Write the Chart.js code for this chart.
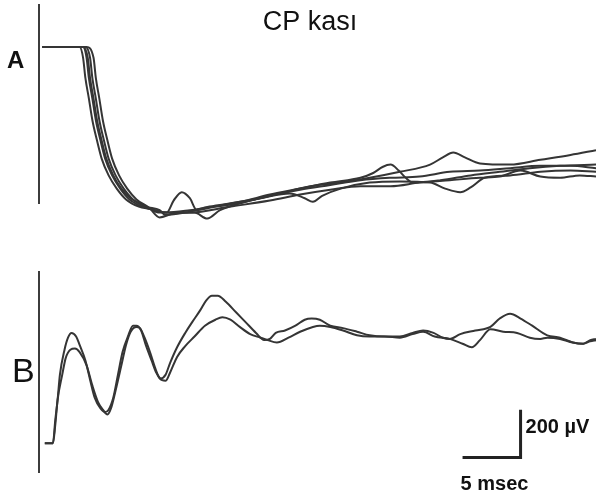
<!DOCTYPE html>
<html>
<head>
<meta charset="utf-8">
<script src="https://cdn.jsdelivr.net/npm/chart.js@4.4.1/dist/chart.umd.min.js"></script>
<style>
  html, body { margin: 0; padding: 0; background: #fff; }
  #wrap { position: relative; width: 596px; height: 501px; }
  canvas { position: absolute; left: 0; }
  #chartA { top: 0; }
  #chartB { top: 250px; }
</style>
</head>
<body>
<div id="wrap">
  <canvas id="chartA" width="596" height="250"></canvas>
  <canvas id="chartB" width="596" height="251"></canvas>
</div>
<script>
// time in msec, amplitude in µV  ->  [t, v]
const title = "CP kası";

// panel A: five superimposed traces
const traceA1 = [[0.3,0],[3.8,0],[4.1,-45],[4.3,-130],[4.6,-215],[4.9,-305],[5.3,-390],[5.7,-465],[6.3,-535],[7.0,-590],[7.8,-635],[8.9,-665],[10.0,-680],[11.0,-690],[11.6,-640],[12.3,-605],[13.0,-630],[13.6,-680],[14.7,-670],[17.3,-650],[19.9,-620],[22.5,-595],[25.1,-575],[27.7,-555],[30.3,-545],[32.8,-540],[35.4,-520],[38.0,-515],[40.6,-505],[43.2,-495],[45.8,-495],[48.0,-505]];
const traceA2 = [[0.3,0],[4.0,0],[4.4,-45],[4.6,-130],[4.9,-215],[5.2,-305],[5.6,-390],[6.0,-465],[6.6,-535],[7.3,-590],[8.1,-635],[9.2,-665],[10.4,-680],[10.9,-700],[12.6,-690],[14.7,-665],[17.3,-645],[19.9,-615],[22.5,-590],[25.1,-565],[27.7,-545],[28.8,-525],[29.6,-500],[30.3,-490],[31.0,-515],[31.6,-545],[32.2,-565],[34.6,-555],[37.2,-535],[39.7,-520],[42.3,-505],[44.9,-495],[48.0,-490]];
const traceA3 = [[0.3,0],[4.1,0],[4.7,-45],[4.9,-130],[5.2,-215],[5.5,-305],[5.9,-390],[6.3,-465],[6.9,-535],[7.6,-590],[8.4,-635],[9.5,-670],[10.4,-710],[11.5,-695],[13.4,-690],[14.5,-715],[15.6,-680],[18.2,-640],[20.8,-610],[23.4,-580],[26.0,-565],[28.5,-545],[31.1,-520],[33.7,-490],[34.8,-460],[35.7,-440],[36.7,-460],[38.0,-485],[40.6,-490],[43.2,-470],[45.8,-450],[48.0,-430]];
const traceA4 = [[0.3,0],[3.5,0],[3.8,-45],[4.0,-130],[4.3,-215],[4.6,-305],[5.0,-390],[5.4,-465],[6.0,-535],[6.7,-590],[7.5,-635],[8.6,-665],[9.6,-675],[10.9,-690],[13.0,-680],[15.6,-660],[19.1,-630],[21.6,-610],[22.9,-630],[23.6,-645],[24.4,-620],[26.0,-590],[28.5,-565],[31.1,-560],[33.7,-565],[35.0,-590],[36.3,-605],[37.2,-585],[38.4,-545],[40.6,-535],[43.2,-520],[45.8,-515],[48.0,-520]];
const traceA5 = [[0.3,0],[3.8,0],[4.2,-45],[4.4,-130],[4.7,-215],[5.0,-305],[5.4,-390],[5.8,-465],[6.4,-535],[7.1,-590],[7.9,-630],[9.0,-660],[9.4,-670],[10.4,-690],[13.0,-690],[16.5,-665],[19.9,-640],[22.5,-615],[25.1,-595],[27.7,-580],[30.3,-580],[32.8,-565],[35.4,-555],[38.0,-545],[39.7,-540],[41.5,-515],[43.2,-540],[44.9,-545],[46.6,-535],[48.0,-540]];

// panel B: two superimposed traces
const traceB1 = [[0.5,0],[1.2,0],[1.4,95],[1.6,180],[1.8,285],[2.2,390],[2.5,440],[2.8,460],[3.2,445],[3.5,410],[4.0,345],[4.4,265],[4.8,190],[5.3,145],[5.7,130],[6.0,140],[6.4,190],[6.8,285],[7.2,380],[7.7,450],[8.1,490],[8.4,490],[8.8,470],[9.2,410],[9.7,345],[10.1,295],[10.5,270],[10.9,285],[11.3,335],[11.9,400],[12.6,460],[13.2,505],[13.9,555],[14.4,595],[14.9,615],[15.4,615],[16.1,590],[17.0,545],[17.8,505],[18.7,460],[19.4,430],[19.9,435],[20.4,460],[21.2,470],[22.1,490],[22.9,515],[23.5,520],[24.2,515],[25.1,490],[26.2,480],[27.4,465],[28.5,450],[29.8,445],[31.1,445],[32.2,460],[33.1,470],[34.0,460],[34.8,440],[35.4,435],[36.3,455],[37.6,470],[38.9,485],[39.7,520],[40.6,540],[41.5,520],[42.5,490],[43.8,450],[44.9,440],[46.0,420],[46.9,415],[47.5,430],[48.0,435]];
const traceB2 = [[0.5,0],[1.2,0],[1.4,75],[1.6,180],[2.0,285],[2.3,355],[2.7,390],[3.1,395],[3.5,380],[4.1,325],[4.6,240],[5.1,170],[5.5,140],[5.9,120],[6.2,145],[6.6,220],[7.1,325],[7.5,410],[7.9,465],[8.4,485],[8.7,480],[9.1,440],[9.6,375],[10.0,315],[10.4,270],[10.9,260],[11.3,295],[11.9,360],[12.6,405],[13.4,445],[14.3,490],[15.2,515],[15.8,525],[16.5,515],[17.3,485],[18.2,455],[19.1,440],[19.7,430],[20.5,420],[21.5,440],[22.5,465],[23.6,485],[24.2,490],[25.1,485],[26.2,470],[27.4,450],[28.5,445],[29.8,445],[31.1,440],[32.2,455],[33.1,465],[34.1,445],[35.4,435],[36.5,415],[37.3,400],[38.0,430],[38.9,475],[40.0,465],[41.2,460],[42.3,440],[43.2,435],[43.8,440],[44.9,435],[46.0,420],[46.9,415],[47.5,425],[48.0,430]];

// calibration bar
const barMs = 5;
const barUv = 200;
const barCorner = [41.5, -60];

const traceColor = "#353535";

function traceSet(data) {
  return {
    data: data,
    borderColor: traceColor,
    borderWidth: 2,
    pointRadius: 0,
    fill: false,
    cubicInterpolationMode: "monotone",
    clip: false
  };
}

function yAxis(min, max) {
  return {
    min: min,
    max: max,
    ticks: { display: false },
    grid: { display: false, drawTicks: false },
    border: { display: true, color: "#3c3c3c", width: 2 },
    afterFit: s => { s.width = 0; }
  };
}

const xAxis = { type: "linear", min: 0, max: 48, display: false };

const labelsA = {
  id: "labelsA",
  afterDraw(chart) {
    const ctx = chart.ctx;
    ctx.save();
    ctx.fillStyle = "#111";
    ctx.textBaseline = "alphabetic";
    ctx.font = "27px 'Liberation Sans Narrow', 'Liberation Sans', sans-serif";
    ctx.textAlign = "center";
    ctx.fillText(title, 310, 30);
    ctx.textAlign = "left";
    ctx.font = "bold 24px 'Liberation Sans', sans-serif";
    ctx.fillText("A", 7, 68);
    ctx.restore();
  }
};

const labelsB = {
  id: "labelsB",
  afterDraw(chart) {
    const ctx = chart.ctx;
    const xs = chart.scales.x, ys = chart.scales.y;
    const cx = xs.getPixelForValue(barCorner[0]);
    const cy = ys.getPixelForValue(barCorner[1]);
    const topY = ys.getPixelForValue(barCorner[1] + barUv);
    const leftX = xs.getPixelForValue(barCorner[0] - barMs);
    ctx.save();
    ctx.fillStyle = "#111";
    ctx.textAlign = "left";
    ctx.textBaseline = "alphabetic";
    ctx.font = "34px 'Liberation Sans Narrow', 'Liberation Sans', sans-serif";
    ctx.fillText("B", 12, 132);
    ctx.font = "bold 20px 'Liberation Sans', sans-serif";
    ctx.fillText(barUv + " µV", cx + 5, topY + 23);
    ctx.fillText(barMs + " msec", leftX - 2, cy + 32);
    ctx.restore();
  }
};

const common = {
  responsive: false,
  animation: false,
  devicePixelRatio: 1,
  events: [],
  plugins: { legend: { display: false }, tooltip: { enabled: false } }
};

new Chart(document.getElementById("chartA").getContext("2d"), {
  type: "line",
  data: { datasets: [traceA1, traceA2, traceA3, traceA4, traceA5].map(traceSet) },
  options: Object.assign({}, common, {
    layout: { padding: { left: 39, top: 5, right: 0, bottom: 47 } },
    scales: { x: xAxis, y: yAxis(-650, 175) }
  }),
  plugins: [labelsA]
});

const barData = [
  [barCorner[0] - barMs, barCorner[1]],
  [barCorner[0], barCorner[1]],
  [barCorner[0], barCorner[1] + barUv]
];

new Chart(document.getElementById("chartB").getContext("2d"), {
  type: "line",
  data: {
    datasets: [traceB1, traceB2].map(traceSet).concat([{
      data: barData,
      borderColor: "#222",
      borderWidth: 3,
      pointRadius: 0,
      fill: false,
      tension: 0,
      borderJoinStyle: "miter",
      borderCapStyle: "butt",
      clip: false
    }])
  },
  options: Object.assign({}, common, {
    layout: { padding: { left: 39, top: 22, right: 0, bottom: 29 } },
    scales: { x: xAxis, y: yAxis(-120, 714) }
  }),
  plugins: [labelsB]
});
</script>
</body>
</html>
